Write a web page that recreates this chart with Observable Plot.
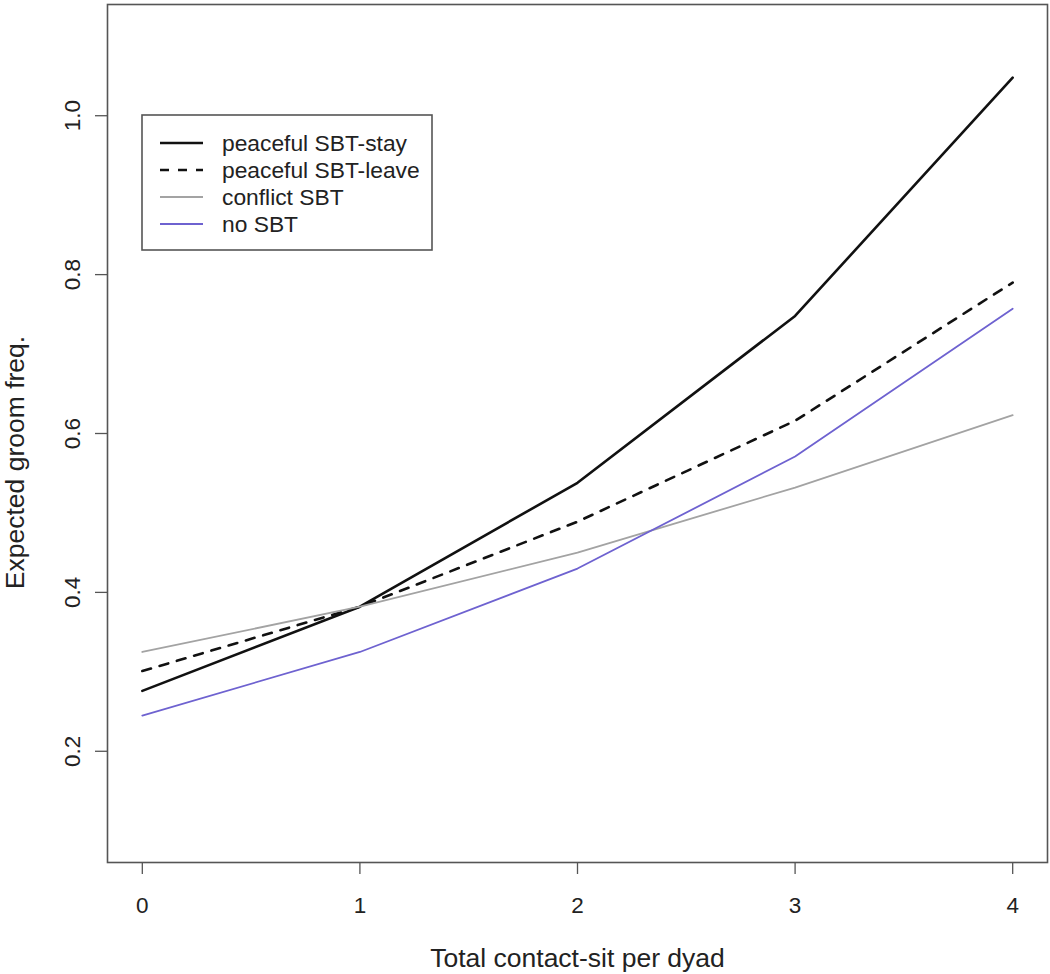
<!DOCTYPE html>
<html>
<head>
<meta charset="utf-8">
<script src="https://cdn.jsdelivr.net/npm/d3@7"></script>
<script src="https://cdn.jsdelivr.net/npm/@observablehq/plot@0.6"></script>
<style>
  html, body { margin: 0; padding: 0; background: #fff; }
  #wrap { position: relative; width: 1050px; height: 974px; }
  #legend { position: absolute; left: 0; top: 0; pointer-events: none; }
  text { font-family: "Liberation Sans", Arial, Helvetica, sans-serif; }
</style>
</head>
<body>
<div id="wrap"></div>
<script>
// ---- data ----
const contactSit = [0, 1, 2, 3, 4];
const peacefulStay  = [0.276, 0.382, 0.538, 0.748, 1.048];
const peacefulLeave = [0.301, 0.382, 0.489, 0.616, 0.790];
const conflictSBT   = [0.325, 0.382, 0.450, 0.532, 0.623];
const noSBT         = [0.245, 0.325, 0.430, 0.571, 0.757];
const xTicks = [0, 1, 2, 3, 4];
const yTicks = [0.2, 0.4, 0.6, 0.8, 1.0];
const seriesNames = ["peaceful SBT-stay", "peaceful SBT-leave", "conflict SBT", "no SBT"];
const xLabel = "Total contact-sit per dyad";
const yLabel = "Expected groom freq.";

const seriesStyle = [
  {stroke: "#111111", strokeWidth: 2.6, dash: null},
  {stroke: "#111111", strokeWidth: 2.6, dash: "9,9"},
  {stroke: "#a3a3a3", strokeWidth: 1.8, dash: null},
  {stroke: "#6e62d0", strokeWidth: 1.8, dash: null}
];
const seriesValues = [peacefulStay, peacefulLeave, conflictSBT, noSBT];
const rows = seriesValues.map(vals => contactSit.map((x, i) => ({x, y: vals[i]})));

const FONT = '"Liberation Sans", Arial, Helvetica, sans-serif';
const axisColor = "#555";

const chart = Plot.plot({
  width: 1050,
  height: 974,
  marginLeft: 107,
  marginRight: 3,
  marginTop: 4,
  marginBottom: 112,
  style: {fontFamily: FONT, fontSize: "22px", color: "#222", background: "#fff"},
  x: {domain: [-0.16, 4.16]},
  y: {domain: [0.06, 1.14]},
  marks: [
    Plot.axisX({
      ticks: xTicks, tickSize: 12, tickPadding: 23, stroke: axisColor, strokeWidth: 1.3,
      fontSize: 22.5, fill: "#222", tickFormat: d => String(d), label: null
    }),
    Plot.axisY({
      ticks: yTicks, tickSize: 12, tickPadding: 16, tickRotate: -90, stroke: axisColor, strokeWidth: 1.3,
      fontSize: 22.5, fill: "#222", tickFormat: d => d.toFixed(1), label: null
    }),
    Plot.text([xLabel], {
      frameAnchor: "bottom", dy: 104, lineAnchor: "bottom", textAnchor: "middle",
      text: d => d, fontSize: 26.5, fill: "#222"
    }),
    Plot.text([yLabel], {
      frameAnchor: "left", dx: -102, dy: 29, rotate: -90, lineAnchor: "top", textAnchor: "middle",
      text: d => d, fontSize: 26.5, fill: "#222"
    }),
    ...rows.map((data, i) => Plot.line(data, {
      x: "x", y: "y",
      stroke: seriesStyle[i].stroke,
      strokeWidth: seriesStyle[i].strokeWidth,
      strokeDasharray: seriesStyle[i].dash
    })),
    Plot.frame({stroke: axisColor, strokeWidth: 1.6})
  ]
});

const wrap = document.getElementById("wrap");
wrap.appendChild(chart);

// ---- legend (drawn as an overlay inside the plot area) ----
const ns = "http://www.w3.org/2000/svg";
const leg = document.createElementNS(ns, "svg");
leg.setAttribute("id", "legend");
leg.setAttribute("width", 1050);
leg.setAttribute("height", 974);
const box = document.createElementNS(ns, "rect");
box.setAttribute("x", 142); box.setAttribute("y", 115);
box.setAttribute("width", 290); box.setAttribute("height", 135);
box.setAttribute("fill", "#fff"); box.setAttribute("stroke", axisColor); box.setAttribute("stroke-width", 1.6);
leg.appendChild(box);
seriesNames.forEach((name, i) => {
  const yy = 143 + i * 27;
  const ln = document.createElementNS(ns, "line");
  ln.setAttribute("x1", 160); ln.setAttribute("x2", 203);
  ln.setAttribute("y1", yy); ln.setAttribute("y2", yy);
  ln.setAttribute("stroke", seriesStyle[i].stroke);
  ln.setAttribute("stroke-width", seriesStyle[i].strokeWidth);
  if (seriesStyle[i].dash) ln.setAttribute("stroke-dasharray", seriesStyle[i].dash);
  leg.appendChild(ln);
  const tx = document.createElementNS(ns, "text");
  tx.setAttribute("x", 222); tx.setAttribute("y", yy + 8);
  tx.setAttribute("font-size", 22.8);
  tx.setAttribute("fill", "#222");
  tx.setAttribute("font-family", FONT);
  tx.textContent = name;
  leg.appendChild(tx);
});
wrap.appendChild(leg);
</script>
</body>
</html>
